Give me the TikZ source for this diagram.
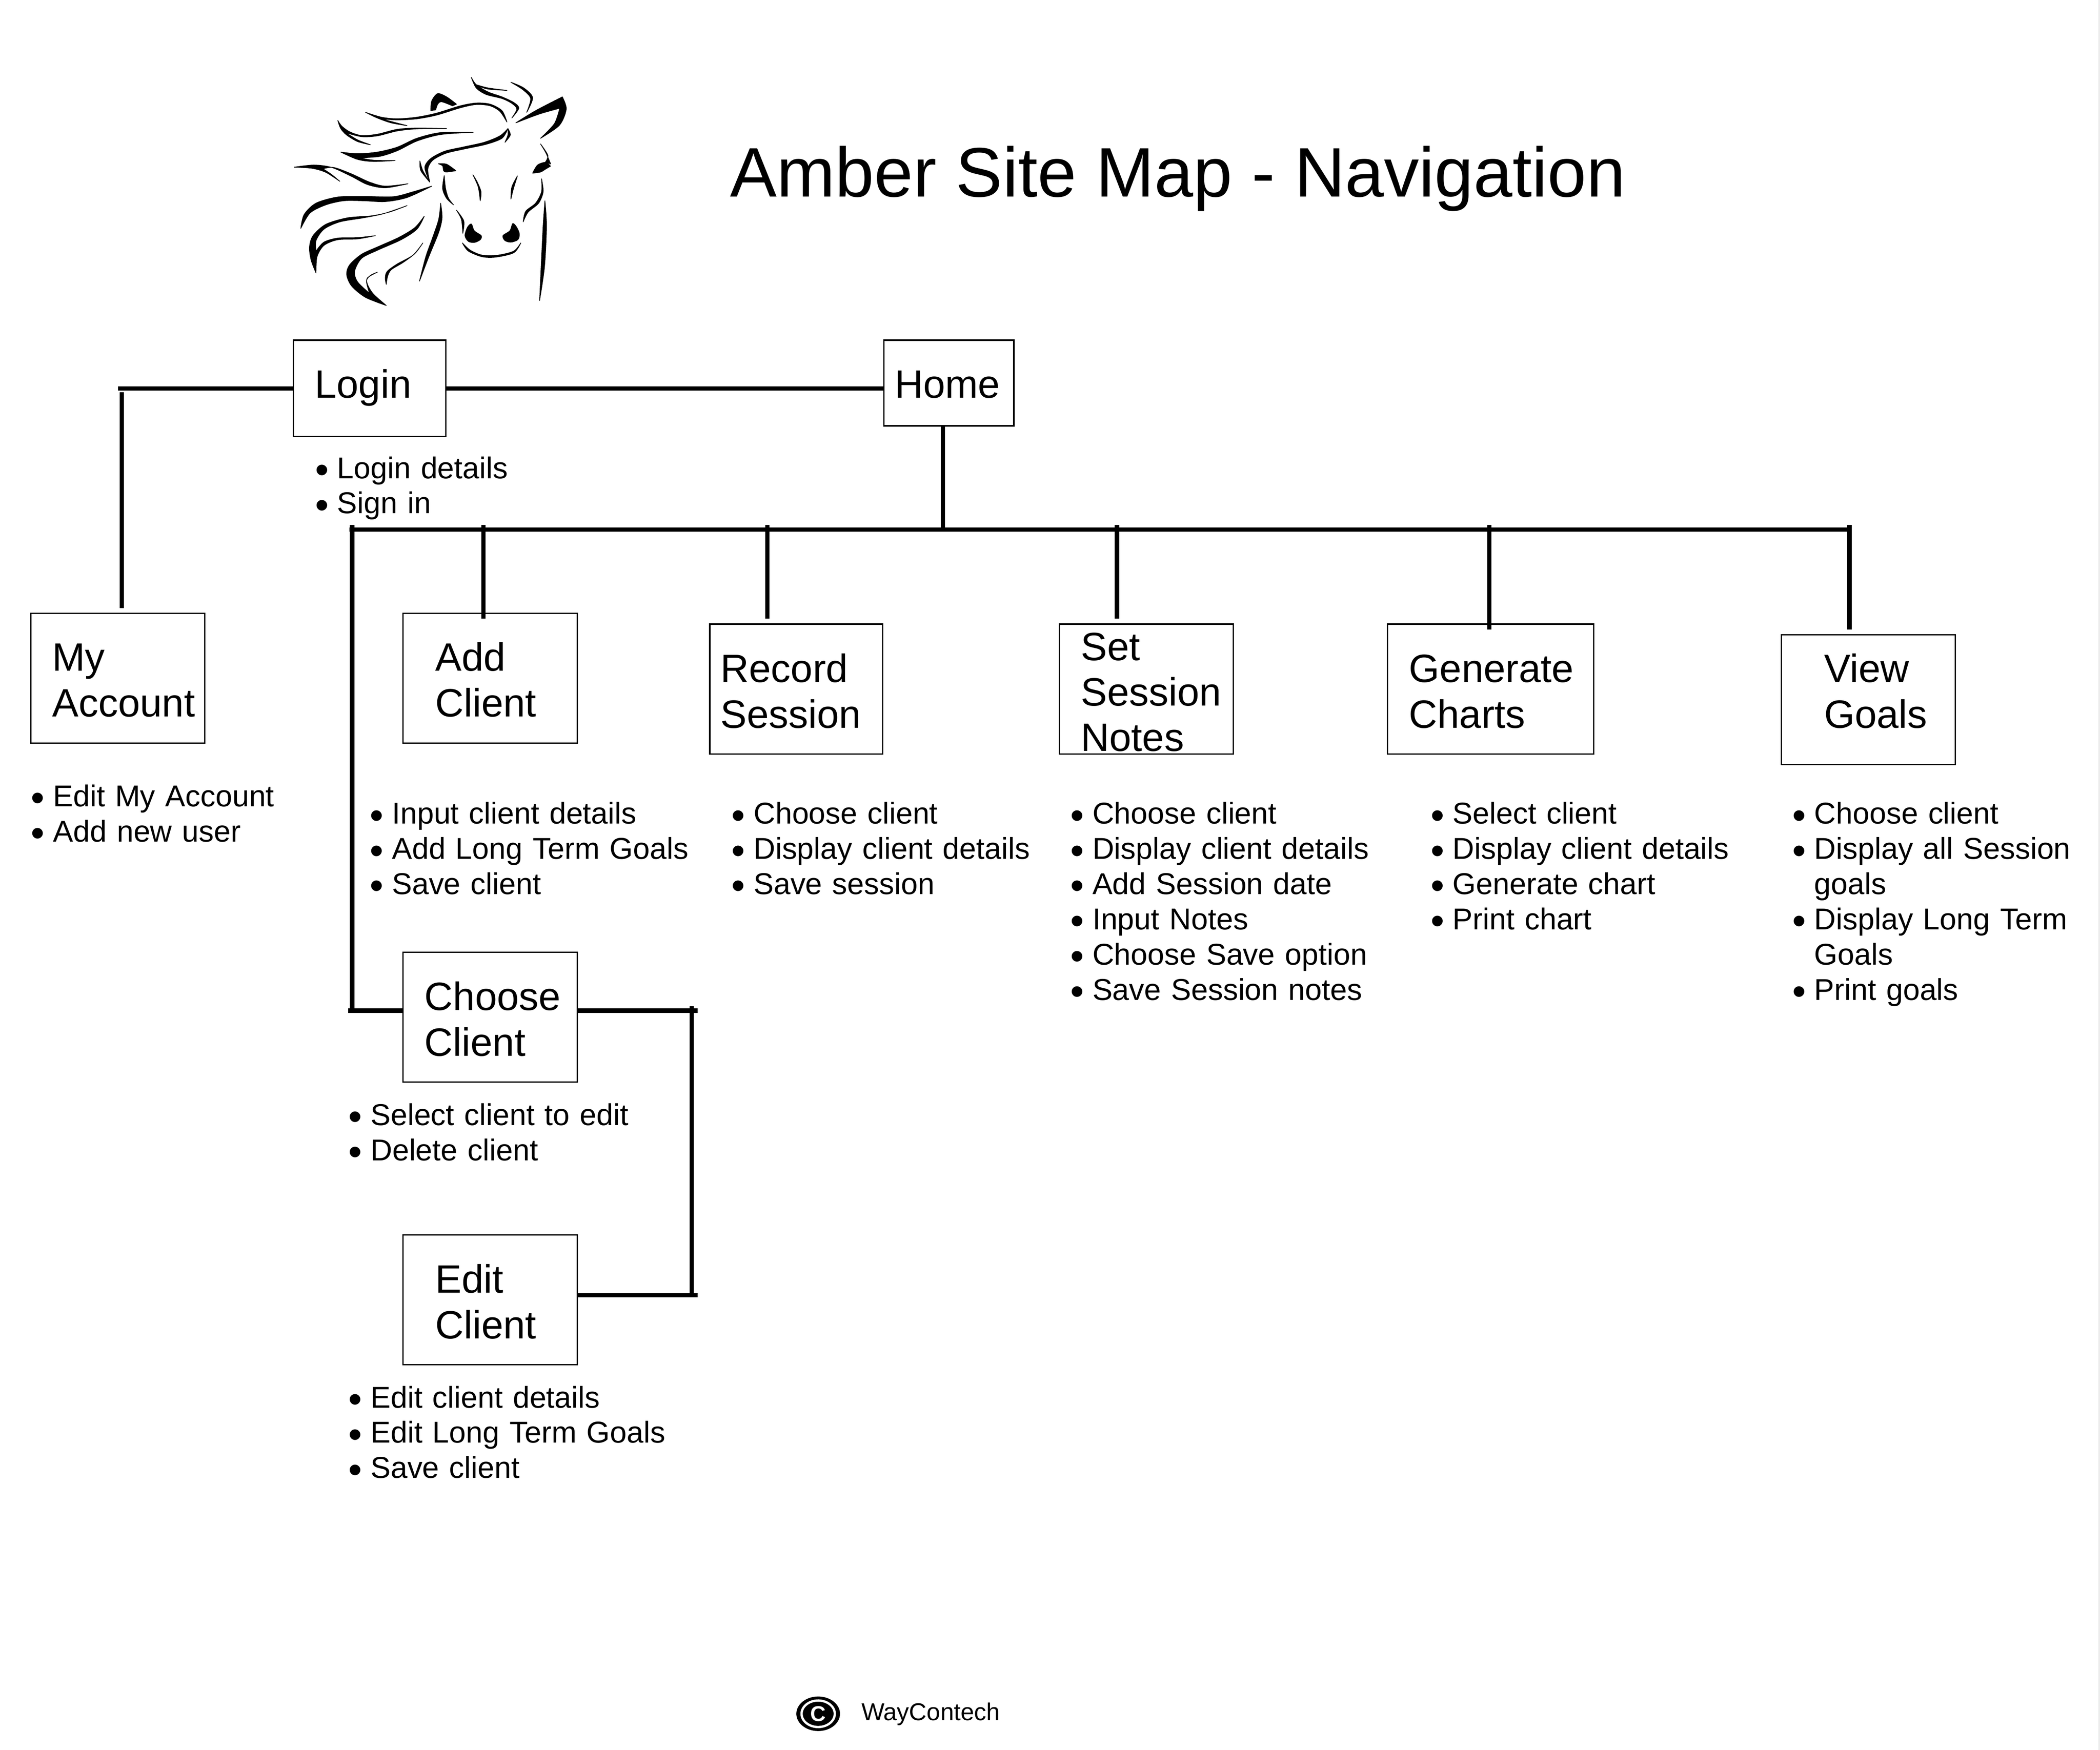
\documentclass[tikz,border=0pt]{standalone}
\usepackage{fontspec}
\usepackage{graphicx}
\setmainfont{Liberation Sans}
\definecolor{edgegrey}{HTML}{ECECEC}
\tikzset{
  boxn/.style={draw=black,line width=1pt,inner sep=0pt,anchor=center,
    font=\fontsize{29.5}{34}\selectfont},
  listn/.style={inner sep=0pt,anchor=north west,text width=300pt,align=left,
    font=\fontsize{22.5}{26.3}\selectfont},
  link/.style={draw=black,line width=3.3pt},
}
% name, x1, y1, x2, y2, text x, first baseline y, text
\newcommand\bx[8]{%
  \pgfmathsetmacro\bw{#4-#2}\pgfmathsetmacro\bh{#5-#3}%
  \pgfmathsetmacro\bcx{(#2+#4)/2}\pgfmathsetmacro\bcy{(#3+#5)/2}%
  \pgfmathsetmacro\bpad{#6-#2}\pgfmathsetmacro\btop{#7-#3}\pgfmathsetmacro\bdep{#5-#7}%
  \node[boxn,minimum width=\bw pt,minimum height=\bh pt,text width=\bw pt,
    text height=\btop pt,text depth=\bdep pt] (#1) at (\bcx,\bcy)
    {\leftskip=\bpad pt\rightskip=0pt plus 1fil\relax\noindent #8\par};}
\newcommand\bu[1]{\par\hangindent=16.5pt\hangafter=1\noindent\rule{0pt}{17pt}\makebox[16.5pt][l]{\raisebox{-3.6pt}{\scalebox{1.3}{\textbullet}}}#1\par}
\newcommand\li[4]{\pgfmathsetmacro\ltop{#3-26.3}\node[listn] (#1) at (#2,\ltop) {#4};}
\begin{document}
\begin{tikzpicture}[x=1pt,y=-1pt]
\useasboundingbox (0,0) rectangle (1568,1306.67);
\fill[white] (0,0) rectangle (1568,1306.67);
\fill[edgegrey] (1566.6,0) rectangle (1568,1306.67);

% horse logo
\begin{scope}[shift={(207.9,47.5)},x=0.1477pt,y=-0.1212pt,smooth,line width=0.5pt,line join=round]
\filldraw plot coordinates {(975,85)(1000,130)(1060,175)(1130,205)(1190,240)(1215,275)(1180,335)} -- plot coordinates {(1180,335)(1205,280)(1180,245)(1130,215)(1050,190)(1000,150)(975,85)} -- cycle;
\filldraw plot coordinates {(1000,130)(1060,150)(1155,165)} -- plot coordinates {(1155,165)(1060,157)(1010,138)} -- cycle;
\filldraw plot coordinates {(1175,115)(1240,150)(1285,210)(1255,300)} -- plot coordinates {(1255,300)(1275,215)(1235,160)(1175,115)} -- cycle;
\filldraw plot coordinates {(770,290)(775,230)(805,185)(850,205)(900,250)} -- (880,260) -- plot coordinates {(880,260)(825,235)(805,250)(795,285)} -- cycle;
\filldraw plot coordinates {(1200,365)(1300,290)(1435,205)} -- plot coordinates {(1435,205)(1455,280)(1420,380)(1325,460)} -- plot coordinates {(1325,460)(1395,370)(1422,275)} -- plot coordinates {(1422,275)(1320,310)(1200,365)} -- cycle;
\filldraw plot coordinates {(1155,360)(1130,290)(1070,250)(1000,243)(920,260)(800,305)(700,330)(600,340)(520,330)(440,300)} -- plot coordinates {(440,300)(500,335)(570,365)(650,382)} -- plot coordinates {(650,382)(580,360)(520,340)} -- plot coordinates {(520,340)(600,347)(700,340)(800,317)(920,272)(1000,252)(1070,260)(1120,295)(1155,360)} -- cycle;
\filldraw plot coordinates {(300,350)(315,400)(345,440)(400,480)(465,500)} -- plot coordinates {(465,500)(400,470)(340,425)} -- plot coordinates {(340,425)(420,450)(500,445)(600,415)(700,402)(850,400)} -- plot coordinates {(850,400)(700,397)(600,405)(500,435)(420,443)(360,420)(320,385)(300,350)} -- cycle;
\filldraw plot coordinates {(315,545)(400,590)(480,603)(590,597)} -- plot coordinates {(590,597)(480,595)(410,580)} -- plot coordinates {(410,580)(510,572)(600,537)(700,477)(820,437)(985,423)} -- plot coordinates {(985,423)(820,425)(700,460)(600,515)(500,545)(400,555)(315,545)} -- cycle;
\filldraw plot coordinates {(1160,400)(1120,445)(1040,485)(930,515)(840,540)(770,585)(740,640)(765,730)} -- plot coordinates {(765,730)(755,650)(780,595)(845,553)(935,527)(1050,497)(1130,460)(1160,400)} -- cycle;
\filldraw plot coordinates {(1160,400)(1172,440)(1145,485)} -- plot coordinates {(1145,485)(1160,440)(1160,400)} -- cycle;
\filldraw plot coordinates {(715,600)(720,660)(765,730)} -- plot coordinates {(765,730)(730,660)(715,600)} -- cycle;
\filldraw plot coordinates {(80,638)(180,625)(270,640)(370,695)(450,745)(540,765)(655,740)} -- plot coordinates {(655,740)(540,755)(460,730)(370,680)(280,640)(225,648)} -- plot coordinates {(225,648)(265,680)(310,725)} -- plot coordinates {(310,725)(240,670)(170,645)(80,638)} -- cycle;
\filldraw plot coordinates {(775,755)(680,790)(580,820)(430,818)(300,822)(190,860)(130,930)(113,1015)} -- plot coordinates {(113,1015)(160,920)(240,870)(330,845)(430,845)(540,850)(650,825)(775,755)} -- cycle;
\filldraw plot coordinates {(650,875)(560,915)(470,938)(350,950)(240,990)(175,1060)(157,1130)(165,1210)(190,1290)} -- plot coordinates {(190,1290)(195,1190)(230,1120)(300,1085)(400,1080)(490,1060)} -- plot coordinates {(490,1060)(400,1072)(300,1075)(230,1100)(190,1155)} -- plot coordinates {(190,1155)(190,1090)(230,1020)(310,975)(430,950)(530,925)(650,875)} -- cycle;
\filldraw plot coordinates {(737,940)(690,1010)(610,1070)(500,1130)(420,1175)(360,1240)(345,1300)(370,1370)(440,1440)(545,1490)} -- plot coordinates {(545,1490)(480,1420)(450,1360)(450,1320)(500,1285)} -- plot coordinates {(500,1285)(465,1305)(445,1340)(460,1415)} -- plot coordinates {(460,1415)(400,1345)(385,1280)(420,1200)(500,1150)(620,1085)(700,1020)(737,940)} -- cycle;
\filldraw plot coordinates {(730,1105)(680,1180)(600,1235)(550,1280)(540,1320)(545,1360)} -- plot coordinates {(545,1360)(552,1310)(570,1270)(630,1225)(690,1170)(730,1105)} -- cycle;
\filldraw plot coordinates {(820,860)(810,960)(780,1070)(745,1190)(713,1340)} -- plot coordinates {(713,1340)(760,1190)(810,1040)(827,950)(820,860)} -- cycle;
\filldraw plot coordinates {(1347,845)(1338,1000)(1330,1200)(1320,1460)} -- plot coordinates {(1320,1460)(1345,1250)(1355,1000)(1347,845)} -- cycle;
% face
\filldraw plot coordinates {(808,617)(850,620)(897,660)} -- plot coordinates {(897,660)(850,668)(835,660)(830,630)(808,617)} -- cycle;
\filldraw plot coordinates {(1325,495)(1352,550)(1376,618)} -- plot coordinates {(1376,618)(1350,606)} -- plot coordinates {(1350,606)(1362,565)(1325,495)} -- cycle;
\filldraw plot coordinates {(1285,675)(1310,625)(1352,608)(1375,632)} -- plot coordinates {(1375,632)(1350,650)(1325,668)(1285,675)} -- cycle;
\filldraw plot coordinates {(838,690)(830,770)(850,830)(885,870)} -- plot coordinates {(885,870)(860,830)(845,770)(838,690)} -- cycle;
\filldraw plot coordinates {(983,685)(1010,760)(1020,845)} -- plot coordinates {(1020,845)(1024,790)(1005,730)(983,685)} -- cycle;
\filldraw plot coordinates {(1208,692)(1180,760)(1175,835)} -- plot coordinates {(1175,835)(1188,770)(1208,692)} -- cycle;
\filldraw plot coordinates {(1330,710)(1330,790)(1300,860)(1250,910)(1237,975)} -- plot coordinates {(1237,975)(1262,915)(1315,860)(1338,790)(1330,710)} -- cycle;
\filldraw plot coordinates {(900,903)(925,960)(932,1045)} -- plot coordinates {(932,1045)(937,970)(900,903)} -- cycle;
\filldraw plot[smooth cycle] coordinates {(975,988)(955,1010)(943,1060)(960,1095)(990,1102)(1020,1085)(1025,1060)(990,1030)};
\filldraw plot[smooth cycle] coordinates {(1185,985)(1170,1030)(1135,1060)(1145,1090)(1175,1100)(1210,1085)(1218,1050)(1205,1010)};
\filldraw plot coordinates {(930,1105)(960,1155)(1030,1190)(1100,1192)(1190,1165)(1225,1105)} -- plot coordinates {(1225,1105)(1190,1155)(1110,1180)(1030,1180)(970,1150)(930,1105)} -- cycle;
\end{scope}

\node[anchor=base west,inner sep=0pt,font=\fontsize{52.3}{60}\selectfont] (title) at (545,147) {Amber Site Map - Navigation};

% boxes
\bx{login}{219}{254}{333}{326}{235}{297}{Login}
\bx{home}{660}{254}{757}{318}{668}{297}{Home}
\bx{myacc}{23}{458}{153}{555}{39}{501}{My\newline Account}
\bx{addc}{301}{458}{431}{555}{325}{501}{Add\newline Client}
\bx{record}{530}{466}{659}{563}{538}{509.5}{Record\newline Session}
\bx{setn}{791}{466}{921}{563}{807}{493}{Set\newline Session\newline Notes}
\bx{gen}{1036}{466}{1190}{563}{1052}{509.5}{Generate\newline Charts}
\bx{view}{1330}{474}{1460}{571}{1362}{509.5}{View\newline Goals}
\bx{choose}{301}{711}{431}{808}{317}{754.5}{Choose\newline Client}
\bx{edit}{301}{922}{431}{1019}{325}{965.5}{Edit\newline Client}

% bullet lists
\li{lLogin}{235}{357}{\bu{Login details}\bu{Sign in}}
\li{lMy}{23}{602}{\bu{Edit My Account}\bu{Add new user}}
\li{lAdd}{276}{615}{\bu{Input client details}\bu{Add Long Term Goals}\bu{Save client}}
\li{lRec}{546}{615}{\bu{Choose client}\bu{Display client details}\bu{Save session}}
\li{lSet}{799}{615}{\bu{Choose client}\bu{Display client details}\bu{Add Session date}\bu{Input Notes}\bu{Choose Save option}\bu{Save Session notes}}
\li{lGen}{1068}{615}{\bu{Select client}\bu{Display client details}\bu{Generate chart}\bu{Print chart}}
\li{lView}{1338}{615}{\bu{Choose client}\bu{Display all Session\newline goals}\bu{Display Long Term\newline Goals}\bu{Print goals}}
\li{lCho}{260}{840}{\bu{Select client to edit}\bu{Delete client}}
\li{lEdit}{260}{1051}{\bu{Edit client details}\bu{Edit Long Term Goals}\bu{Save client}}

% free ends and junctions
\coordinate (loginL) at (88,290);
\coordinate (myTop) at (91,293);
\coordinate (myEnd) at (91,454);
\coordinate (busL) at (261,395.5);
\coordinate (busR) at (1381,395.5);
\coordinate (busH) at (704,395.5);
\coordinate (homeOut) at (704,318);
\coordinate (trunkT) at (263,392);
\coordinate (trunkB) at (263,754.6);
\coordinate (chL) at (260,754.6);
\coordinate (chR) at (521,754.6);
\coordinate (edR) at (521,967.2);
\coordinate (sideT) at (516.5,751.4);
\coordinate (sideB) at (516.5,967.2);

\path[link] (login.west |- loginL) -- (loginL);
\path[link] (myTop) -- (myEnd);
\path[link] (login.east |- loginL) -- (home.west |- loginL);
\path[link] (homeOut) -- (busH);
\path[link] (busL) -- (busR);
\path[link] (trunkT) -- (trunkB);
\path[link] (361,392) -- (361,462);
\path[link] (573,392) -- (573,462);
\path[link] (834,392) -- (834,462);
\path[link] (1112,392) -- (1112,470);
\path[link] (1381,392) -- (1381,470);
\path[link] (chL) -- (chL -| choose.west);
\path[link] (chR -| choose.east) -- (chR);
\path[link] (sideT) -- (sideB);
\path[link] (edR -| edit.east) -- (edR);

% copyright mark
\coordinate (cm) at (610.9,1279.7);
\fill[black] (cm) ellipse [x radius=16.3pt,y radius=12.9pt];
\draw[white,line width=1.7pt] (cm) ellipse [x radius=12.4pt,y radius=9.9pt];
\node[inner sep=0pt,text=white,font=\fontsize{16}{16}\selectfont\bfseries] (cmark) at (cm) {C};
\node[anchor=west,inner sep=0pt,font=\fontsize{18.2}{21}\selectfont] (way) at (643,1280) {WayContech};
\end{tikzpicture}
\end{document}
